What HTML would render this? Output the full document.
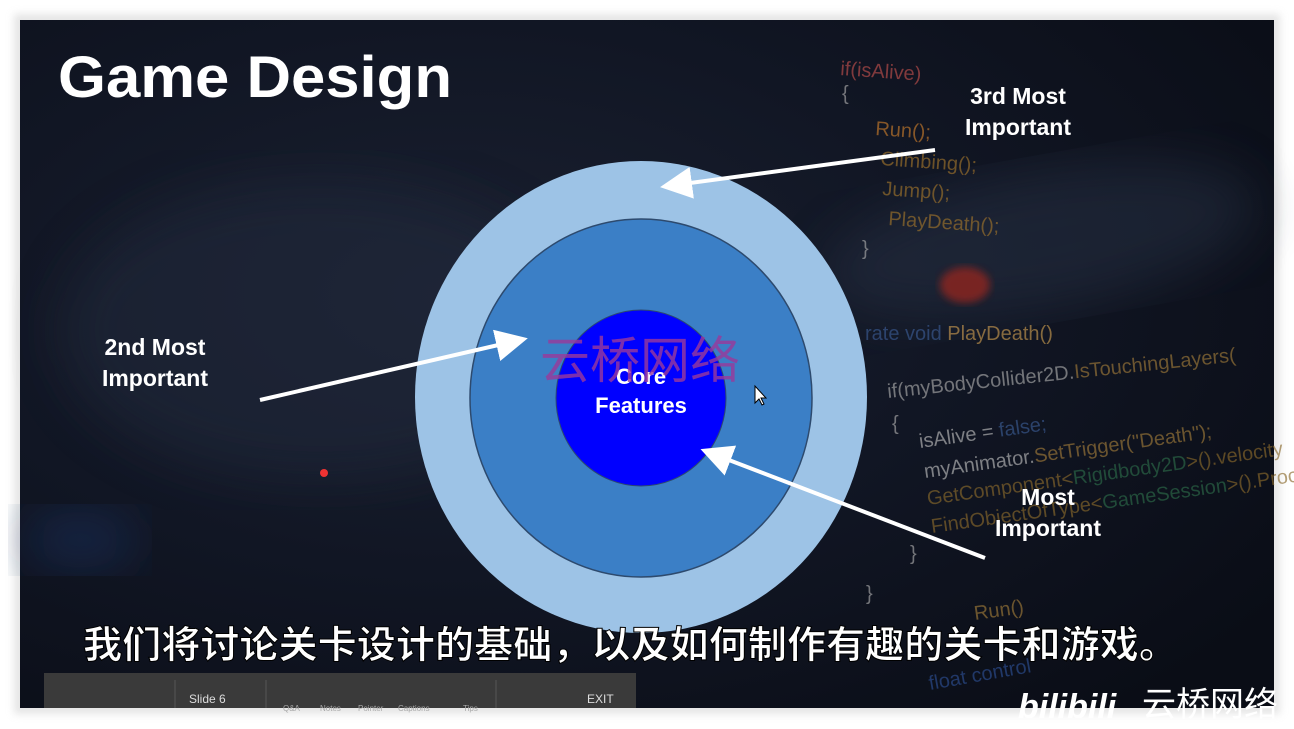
<!DOCTYPE html>
<html><head><meta charset="utf-8"><style>
body{margin:0;width:1294px;height:729px;background:#fff;overflow:hidden;font-family:"Liberation Sans","Noto Sans CJK SC",sans-serif}
</style></head><body>
<svg width="1294" height="729" viewBox="0 0 1294 729" xmlns="http://www.w3.org/2000/svg" style="position:absolute;left:0;top:0">
<defs>
<radialGradient id="bg" cx="0.35" cy="0.4" r="0.8">
<stop offset="0" stop-color="#1a2030"/><stop offset="0.5" stop-color="#111624"/><stop offset="1" stop-color="#0a0d16"/>
</radialGradient>
<marker id="ah" markerWidth="8" markerHeight="8" refX="6" refY="4" orient="auto" markerUnits="strokeWidth">
<path d="M0,0 L8,4 L0,8 z" fill="#fff"/></marker>
<filter id="sh"><feGaussianBlur stdDeviation="4"/></filter>
<filter id="bl"><feGaussianBlur stdDeviation="25"/></filter>
</defs>
<rect x="14" y="14" width="1266" height="700" fill="#ccc" filter="url(#sh)" opacity="0.5"/>
<rect x="20" y="20" width="1254" height="688" fill="url(#bg)"/>
<ellipse cx="320" cy="330" rx="260" ry="150" fill="#222a3c" opacity="0.5" filter="url(#bl)"/>
<ellipse cx="1040" cy="240" rx="220" ry="70" fill="#2a3448" opacity="0.45" filter="url(#bl)" transform="rotate(-10 1040 240)"/>
<ellipse cx="965" cy="285" rx="25" ry="18" fill="#a0281c" opacity="0.7" filter="url(#sh)"/>
<ellipse cx="80" cy="540" rx="60" ry="30" fill="#1e3566" opacity="0.5" filter="url(#bl)"/>
<circle cx="324" cy="473" r="4" fill="#e33"/>
<g font-family="Liberation Sans,sans-serif" font-size="20" opacity="0.65">
<text x="840" y="75" fill="#c0504d" transform="rotate(4 840 75)">if(isAlive)</text>
<text x="842" y="100" fill="#aaa">{</text>
<text x="875" y="135" fill="#c77c2c" transform="rotate(4 875 135)">Run();</text>
<text x="880" y="165" fill="#a0742c" transform="rotate(4 880 165)">Climbing();</text>
<text x="882" y="195" fill="#a0742c" transform="rotate(4 882 195)">Jump();</text>
<text x="888" y="225" fill="#a0742c" transform="rotate(4 888 225)">PlayDeath();</text>
<text x="862" y="255" fill="#aaa">}</text>
<text x="865" y="340" fill="#3b5b93">rate void <tspan fill="#c89a50">PlayDeath()</tspan></text>
<text x="888" y="398" fill="#aaa" transform="rotate(-6 888 398)">if(myBodyCollider2D.<tspan fill="#a07a3a">IsTouchingLayers(</tspan></text>
<text x="892" y="430" fill="#aaa">{</text>
<text x="920" y="448" fill="#bbb" transform="rotate(-8 920 448)">isAlive = <tspan fill="#3b5b93">false;</tspan></text>
<text x="925" y="478" fill="#bbb" transform="rotate(-8 925 478)">myAnimator.<tspan fill="#a07a3a">SetTrigger("Death");</tspan></text>
<text x="928" y="505" fill="#8a6a2c" transform="rotate(-8 928 505)">GetComponent&lt;<tspan fill="#2d6b4a">Rigidbody2D</tspan>&gt;().velocity</text>
<text x="932" y="533" fill="#8a6a2c" transform="rotate(-8 932 533)">FindObjectOfType&lt;<tspan fill="#2d6b4a">GameSession</tspan>&gt;().Proce</text>
<text x="910" y="560" fill="#aaa">}</text>
<text x="866" y="600" fill="#aaa">}</text>
<text x="975" y="620" fill="#a07a3a" transform="rotate(-8 975 620)">Run()</text>
<text x="930" y="690" fill="#2d4f93" transform="rotate(-10 930 690)">float control</text>
</g>
<text x="58" y="97" font-size="58" font-weight="bold" fill="#fff" textLength="394" lengthAdjust="spacingAndGlyphs">Game Design</text>
<ellipse cx="641" cy="397" rx="226" ry="236" fill="#9dc3e6"/>
<ellipse cx="641" cy="398" rx="171" ry="179" fill="#3b7fc6" stroke="#2d4a6e" stroke-width="1.5"/>
<ellipse cx="641" cy="398" rx="85" ry="88" fill="#0000ff" stroke="#2d4a6e" stroke-width="1"/>
<text x="641" y="384" font-size="22" font-weight="bold" fill="#fff" text-anchor="middle">Core</text>
<text x="641" y="413" font-size="22" font-weight="bold" fill="#fff" text-anchor="middle">Features</text>
<text x="640" y="378" font-size="50" fill="#9b3a9b" opacity="0.8" text-anchor="middle" font-family="Noto Sans CJK SC,sans-serif">云桥网络</text>
<path d="M755,386 l0,17 l4,-4 l3,6 l2,-1 l-3,-6 l5,0 z" fill="#fff" stroke="#000" stroke-width="1"/>
<g stroke="#fff" stroke-width="4" fill="none">
<line x1="935" y1="150" x2="668" y2="186" marker-end="url(#ah)"/>
<line x1="260" y1="400" x2="520" y2="340" marker-end="url(#ah)"/>
<line x1="985" y1="558" x2="708" y2="452" marker-end="url(#ah)"/>
</g>
<g font-size="23" font-weight="bold" fill="#fff" text-anchor="middle">
<text x="1018" y="104">3rd Most</text><text x="1018" y="135">Important</text>
<text x="155" y="355">2nd Most</text><text x="155" y="386">Important</text>
<text x="1048" y="505">Most</text><text x="1048" y="536">Important</text>
</g>
<rect x="44" y="673" width="592" height="35" fill="#3a3a3a"/>
<g stroke="#555" stroke-width="1"><line x1="175" y1="680" x2="175" y2="708"/><line x1="266" y1="680" x2="266" y2="708"/><line x1="496" y1="680" x2="496" y2="708"/></g>
<g fill="#ddd" font-size="12"><text x="189" y="703">Slide 6</text><text x="587" y="703">EXIT</text></g>
<g fill="#aaa" font-size="8"><text x="283" y="711">Q&amp;A</text><text x="320" y="711">Notes</text><text x="358" y="711">Pointer</text><text x="398" y="711">Captions</text><text x="463" y="711">Tips</text></g>
<text x="83" y="658" font-size="38" font-weight="bold" fill="#fff" stroke="#000" stroke-width="1" textLength="1095" lengthAdjust="spacingAndGlyphs" font-family="Noto Sans CJK SC,sans-serif">我们将讨论关卡设计的基础，以及如何制作有趣的关卡和游戏。</text>
<text x="1018" y="718" font-size="34" font-weight="bold" fill="#fff" font-family="Liberation Sans,sans-serif" font-style="italic">bilibili</text>
<text x="1142" y="716" font-size="34" fill="#fff" font-family="Noto Sans CJK SC,sans-serif">云桥网络</text>
</svg>
</body></html>
